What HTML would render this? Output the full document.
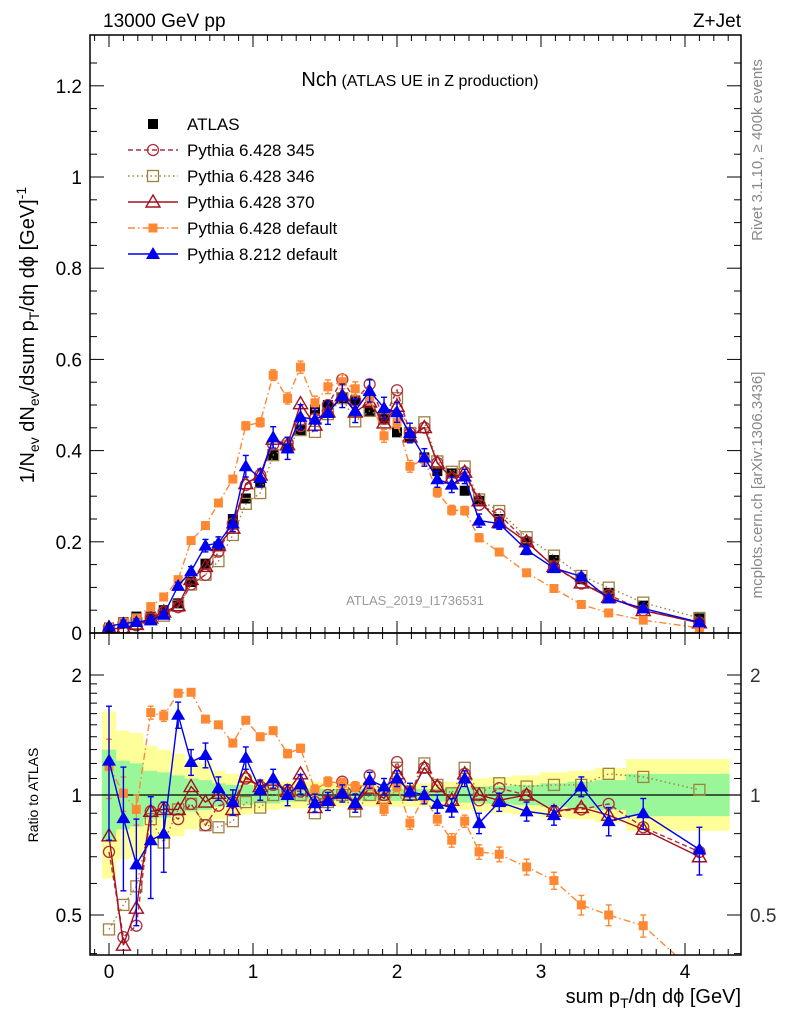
<!DOCTYPE html>
<html><head><meta charset="utf-8"><style>
html,body{margin:0;padding:0;background:#fff;}
svg{display:block;font-family:"Liberation Sans",sans-serif;}
</style></head><body>
<svg id="c" width="786" height="1024" viewBox="0 0 786 1024">
<text x="103" y="27" font-size="19">13000 GeV pp</text>
<text x="741" y="27" font-size="19" text-anchor="end">Z+Jet</text>
<text x="420" y="86" text-anchor="middle"><tspan font-size="20">Nch</tspan><tspan font-size="16"> (ATLAS UE in Z production)</tspan></text>
<text transform="translate(762,150) rotate(-90)" font-size="15" fill="#888" text-anchor="middle">Rivet 3.1.10, ≥ 400k events</text>
<text transform="translate(762,485) rotate(-90)" font-size="15" fill="#888" text-anchor="middle">mcplots.cern.ch [arXiv:1306.3436]</text>
<text x="415" y="605" font-size="13" fill="#999" text-anchor="middle">ATLAS_2019_I1736531</text>
<text transform="translate(34,335) rotate(-90)" font-size="20" text-anchor="middle">1/N<tspan font-size="14" dy="5">ev</tspan><tspan dy="-5"> dN</tspan><tspan font-size="14" dy="5">ev</tspan><tspan dy="-5">/dsum p</tspan><tspan font-size="14" dy="5">T</tspan><tspan dy="-5">/dη dϕ  [GeV]</tspan><tspan font-size="14" dy="-8">-1</tspan></text>
<text transform="translate(38,795) rotate(-90)" font-size="14" text-anchor="middle">Ratio to ATLAS</text>
<text x="741" y="1003" font-size="20" text-anchor="end">sum p<tspan font-size="14" dy="5">T</tspan><tspan dy="-5">/dη dϕ [GeV]</tspan></text>
<g id="g"></g>
</svg>
<script>
const xs=[0,0.1,0.19,0.29,0.38,0.48,0.57,0.67,0.76,0.86,0.95,1.05,1.14,1.24,1.33,1.43,1.52,1.62,1.71,1.81,1.91,2.0,2.09,2.19,2.28,2.38,2.47,2.57,2.71,2.9,3.09,3.28,3.47,3.71,4.1];
const atlas=[0.012,0.024,0.036,0.036,0.05,0.065,0.112,0.152,0.19,0.25,0.295,0.33,0.39,0.405,0.445,0.49,0.50,0.515,0.51,0.487,0.47,0.44,0.43,0.385,0.355,0.35,0.312,0.29,0.25,0.2,0.16,0.118,0.088,0.06,0.032];
const r345=[0.72,0.44,0.47,0.91,0.93,0.87,0.95,0.84,0.94,0.96,1.10,1.05,1.06,1.03,1.02,0.96,1.0,1.08,1.0,1.12,1.0,1.21,1.02,1.17,1.05,0.97,1.13,0.97,1.04,1.0,0.91,0.92,0.95,0.83,0.72];
const r346=[0.46,0.53,0.59,0.87,0.76,0.92,0.95,0.84,0.83,0.86,0.96,0.93,1.0,1.01,1.0,0.90,0.96,1.0,0.91,1.0,1.0,1.17,1.02,1.20,1.06,1.01,1.17,1.01,1.07,1.05,1.06,1.06,1.13,1.11,1.03];
const r370=[0.79,0.42,0.52,0.91,0.92,0.92,1.05,0.96,1.01,0.92,1.11,1.05,1.09,1.02,1.13,0.93,0.97,1.01,0.95,1.04,0.98,1.13,1.0,1.17,1.05,0.97,1.13,1.0,0.97,1.0,0.91,0.93,0.89,0.82,0.70];
const rdef=[1.18,1.01,0.92,1.61,1.58,1.80,1.81,1.55,1.50,1.35,1.54,1.40,1.45,1.27,1.31,1.03,1.08,1.07,1.05,1.06,0.92,1.05,0.85,0.99,0.87,0.77,0.86,0.72,0.71,0.66,0.61,0.53,0.50,0.47,0.35];
const rp8=[1.22,0.875,0.67,0.77,0.80,1.59,1.21,1.26,1.04,0.96,1.24,1.03,1.10,1.0,1.065,0.955,0.965,1.01,0.955,1.09,1.05,1.10,1.02,1.0,0.95,0.93,1.10,0.85,0.96,0.91,0.89,1.05,0.86,0.90,0.73];
const errP8=[0.45,0.3,0.2,0.22,0.16,0.12,0.09,0.09,0.07,0.07,0.08,0.06,0.06,0.06,0.06,0.05,0.05,0.05,0.05,0.05,0.05,0.05,0.05,0.05,0.05,0.05,0.05,0.05,0.05,0.05,0.05,0.06,0.07,0.08,0.1];
const errDef=[0.2,0.1,0.08,0.06,0.05,0.04,0.03,0.03,0.03,0.03,0.03,0.03,0.03,0.03,0.03,0.03,0.03,0.03,0.03,0.03,0.03,0.03,0.03,0.03,0.03,0.03,0.03,0.03,0.03,0.03,0.03,0.03,0.03,0.03,0.03];
const yellowUp=[1.62,1.45,1.43,1.33,1.30,1.27,1.22,1.20,1.15,1.13,1.12,1.10,1.09,1.08,1.08,1.08,1.07,1.07,1.07,1.07,1.07,1.07,1.07,1.07,1.08,1.08,1.09,1.10,1.11,1.12,1.14,1.15,1.17,1.23,1.23];
const greenUp=[1.30,1.22,1.20,1.15,1.14,1.12,1.10,1.09,1.07,1.06,1.06,1.05,1.05,1.04,1.04,1.04,1.035,1.035,1.035,1.035,1.035,1.035,1.035,1.035,1.04,1.04,1.045,1.05,1.055,1.06,1.07,1.08,1.09,1.13,1.13];
const mainTicks=[0,0.2,0.4,0.6,0.8,1,1.2];
const mainTickLabels=["0","0.2","0.4","0.6","0.8","1","1.2"];
const ratioTicks=[0.5,1,2];
const ratioTickLabels=["0.5","1","2"];
const xTicks=[0,1,2,3,4];
const xTickLabels=["0","1","2","3","4"];

const L=90,R=741,T=35,MB=633,RB=955;
const X=v=>109+v*144;
const Y=v=>633-v*456;
const RY=r=>795-120*Math.log2(r);
const NS="http://www.w3.org/2000/svg";
const g=document.getElementById('g');
function el(t,a,p){const e=document.createElementNS(NS,t);for(const k in a)e.setAttribute(k,a[k]);(p||g).appendChild(e);return e;}
const clipDefs=el('defs',{});
const c1=el('clipPath',{id:'cm'},clipDefs);el('rect',{x:L,y:T,width:R-L,height:MB-T},c1);
const c2=el('clipPath',{id:'cr'},clipDefs);el('rect',{x:L,y:MB,width:R-L,height:RB-MB},c2);
const gm=el('g',{'clip-path':'url(#cm)'});


const gr=el('g',{'clip-path':'url(#cr)'});



const edges=[];for(let i=0;i<=xs.length;i++){if(i==0)edges.push(xs[0]-0.05);else if(i==xs.length)edges.push(4.31);else edges.push((xs[i-1]+xs[i])/2);}
function band(up,col,name){let d='M';for(let i=0;i<xs.length;i++){d+=X(edges[i])+','+RY(up[i])+' L'+X(edges[i+1])+','+RY(up[i])+' L';}
for(let i=xs.length-1;i>=0;i--){d+=X(edges[i+1])+','+RY(1/up[i])+' L'+X(edges[i])+','+RY(1/up[i])+(i>0?' L':'');}
const p=el('path',{d:d+'Z',fill:col,stroke:'none'},gr);

}
band(yellowUp,'#ffff99','uncertainty-band-yellow');
band(greenUp,'#99f799','uncertainty-band-green');
const one=el('line',{x1:L,x2:R,y1:RY(1),y2:RY(1),stroke:'#000','stroke-width':1.3},gr);



function marker(p,shape,x,y,col){
 let m;
 if(shape=='fsq')m=el('rect',{x:x-5,y:y-5,width:10,height:10,fill:col},p);
 else if(shape=='osq')m=el('rect',{x:x-5.5,y:y-5.5,width:11,height:11,fill:'none',stroke:col,'stroke-width':1.3},p);
 else if(shape=='oc')m=el('circle',{cx:x,cy:y,r:5.5,fill:'none',stroke:col,'stroke-width':1.3},p);
 else if(shape=='otri')m=el('path',{d:`M${x},${y-7} L${x+7},${y+5} L${x-7},${y+5}Z`,fill:'none',stroke:col,'stroke-width':1.4},p);
 else if(shape=='ftri')m=el('path',{d:`M${x},${y-7} L${x+7},${y+5} L${x-7},${y+5}Z`,fill:col},p);
 else if(shape=='fsqs')m=el('rect',{x:x-4.5,y:y-4.5,width:9,height:9,fill:col},p);
 return m;
}
const series=[
 {r:r346,col:'#a08040',dash:'1.5,3',shape:'osq',name:'pythia6-346',err:null},
 {r:r345,col:'#b03040',dash:'5,3',shape:'oc',name:'pythia6-345',err:null},
 {r:r370,col:'#a01020',dash:'',shape:'otri',name:'pythia6-370',err:null},
 {r:rdef,col:'#ff8833',dash:'7,3,1.5,3',shape:'fsqs',name:'pythia6-default',err:errDef},
 {r:rp8,col:'#0000ee',dash:'',shape:'ftri',name:'pythia8-default',err:errP8}
];
function draw(p,fx,fy,s,isMain){
 const grp=el('g',{},p);
 
 
 const pts=xs.map((x,i)=>[X(x),fy(i)]);
 el('polyline',{points:pts.map(q=>q.join(',')).join(' '),fill:'none',stroke:s.col,'stroke-width':1.4,'stroke-dasharray':s.dash},grp);
 pts.forEach((q,i)=>{
  if(s.err){const e=s.err[i];const y1=isMain?Y(atlas[i]*(s.r[i]-e)):RY(Math.max(s.r[i]-e,0.01));const y2=isMain?Y(atlas[i]*(s.r[i]+e)):RY(s.r[i]+e);
   el('line',{x1:q[0],x2:q[0],y1:y1,y2:y2,stroke:s.col,'stroke-width':1.4},grp);
   el('line',{x1:q[0]-3,x2:q[0]+3,y1:y1,y2:y1,stroke:s.col,'stroke-width':1.4},grp);
   el('line',{x1:q[0]-3,x2:q[0]+3,y1:y2,y2:y2,stroke:s.col,'stroke-width':1.4},grp);}
  const m=marker(grp,s.shape,q[0],q[1],s.col);
  
  
 });
}
const ga=el('g',{},gm);


xs.forEach((x,i)=>{const m=marker(ga,'fsq',X(x),Y(atlas[i]),'#000');
 
 });
series.forEach(s=>{draw(gm,X,i=>Y(atlas[i]*s.r[i]),s,true);draw(gr,X,i=>RY(s.r[i]),s,false);});

[[T,MB],[MB,RB]].forEach(([a,b],k)=>{const f=el('rect',{x:L,y:a,width:R-L,height:b-a,fill:'none',stroke:'#000','stroke-width':1.5});
 
 });
for(let v=-0.1;v<=4.35;v+=0.1){const vv=Math.round(v*10)/10;const maj=Math.abs(vv-Math.round(vv))<1e-6;const len=maj?12:6;const x=X(vv);
 [[T,1],[MB,-1],[MB,1],[RB,-1]].forEach(([y,d])=>el('line',{x1:x,x2:x,y1:y,y2:y+d*len,stroke:'#000','stroke-width':1}));}
xTicks.forEach((v,i)=>{const t=el('text',{x:X(v),y:978,'font-size':19,'text-anchor':'middle'});t.textContent=xTickLabels[i];
 
 });
for(let v=0;v<=1.3;v+=0.05){const vv=Math.round(v*100)/100;const maj=Math.abs(vv*5-Math.round(vv*5))<1e-6;const len=maj?14:7;
 el('line',{x1:L,x2:L+len,y1:Y(vv),y2:Y(vv),stroke:'#000'});el('line',{x1:R,x2:R-len,y1:Y(vv),y2:Y(vv),stroke:'#000'});}
mainTicks.forEach((v,i)=>{const t=el('text',{x:82,y:Y(v)+7,'font-size':19,'text-anchor':'end'});t.textContent=mainTickLabels[i];
 
 });
[0.4,0.5,0.6,0.7,0.8,0.9,1,1.1,1.2,1.3,1.4,1.5,1.6,1.7,1.8,1.9,2].forEach(v=>{const maj=[0.5,1,2].includes(v);const len=maj?14:7;
 if(RY(v)<MB||RY(v)>RB)return;
 el('line',{x1:L,x2:L+len,y1:RY(v),y2:RY(v),stroke:'#000'});el('line',{x1:R,x2:R-len,y1:RY(v),y2:RY(v),stroke:'#000'});});
ratioTicks.forEach((v,i)=>{const t=el('text',{x:82,y:RY(v)+7,'font-size':19,'text-anchor':'end'});t.textContent=ratioTickLabels[i];
 
 
 const t2=el('text',{x:750,y:RY(v)+7,'font-size':19,fill:'#333'});t2.textContent=ratioTickLabels[i];
 
 });
const leg=[['ATLAS','#000','','fsq'],['Pythia 6.428 345','#b03040','5,3','oc'],['Pythia 6.428 346','#a08040','1.5,3','osq'],['Pythia 6.428 370','#a01020','','otri'],['Pythia 6.428 default','#ff8833','7,3,1.5,3','fsqs'],['Pythia 8.212 default','#0000ee','','ftri']];
leg.forEach((l,i)=>{const y=124+i*26;const gg=el('g',{});
 
 
 if(i>0)el('line',{x1:128,x2:178,y1:y,y2:y,stroke:l[1],'stroke-width':1.4,'stroke-dasharray':l[2]},gg);
 marker(gg,l[3],153,y,l[1]);
 const t=el('text',{x:187,y:y+6,'font-size':17},gg);t.textContent=l[0];});
</script>
</body></html>
